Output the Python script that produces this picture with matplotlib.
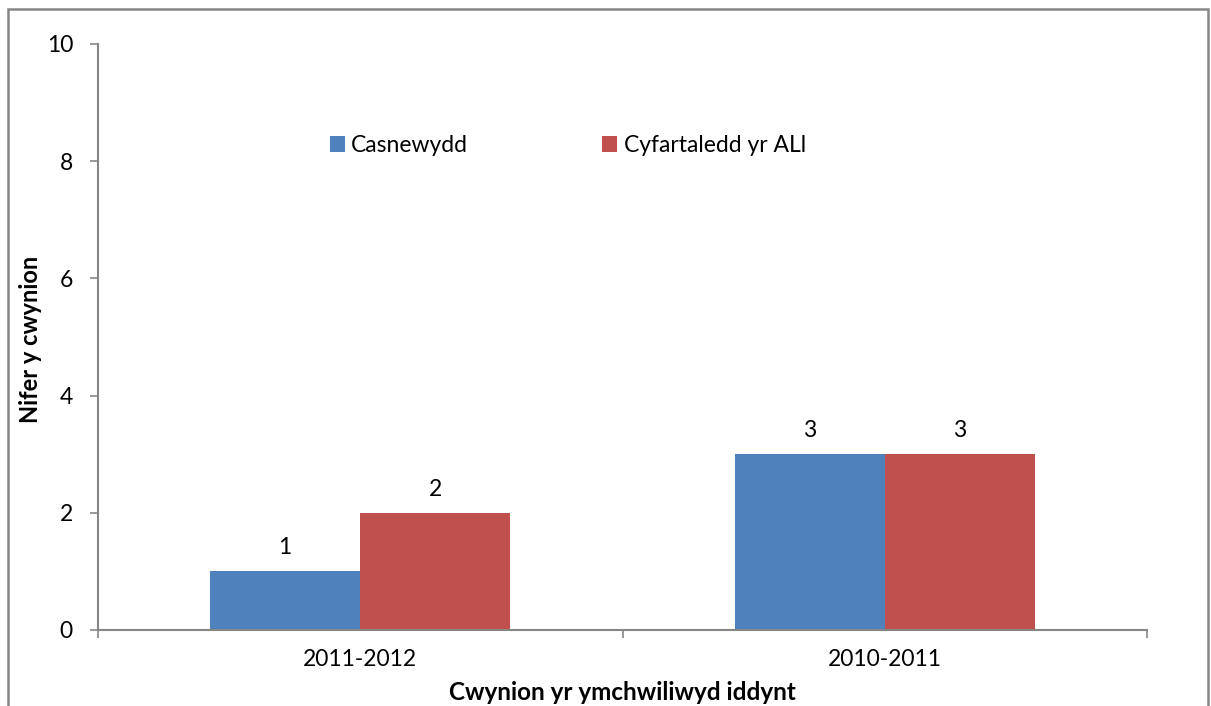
import matplotlib
matplotlib.use("Agg")
import matplotlib.pyplot as plt
from matplotlib.patches import Patch, Rectangle

categories = ["2011-2012", "2010-2011"]
series_names = ["Casnewydd", "Cyfartaledd yr ALl"]
casnewydd = [1, 3]
cyfartaledd = [2, 3]
colors = ["#4F81BD", "#C0504D"]
y_ticks = [0, 2, 4, 6, 8, 10]

plt.rcParams['font.family'] = ['Lato', 'DejaVu Sans']

W, H = 1211, 706
fig = plt.figure(figsize=(W / 100, H / 100), dpi=100)

# outer frame
fig.patches.append(Rectangle((8 / W, -0.05), 1200 / W, 1.05 - 9 / H,
                             transform=fig.transFigure, fill=False,
                             edgecolor="#868686", linewidth=1.8))

ax = fig.add_axes([98 / W, (H - 630) / H, (1147 - 98) / W, (630 - 44) / H])

gray = "#868686"
fs = 16.5
bw = 150 / 524
x = list(range(len(categories)))
b1 = ax.bar([i - bw / 2 for i in x], casnewydd, width=bw, color=colors[0], label=series_names[0])
b2 = ax.bar([i + bw / 2 for i in x], cyfartaledd, width=bw, color=colors[1], label=series_names[1])

for bars, vals in ((b1, casnewydd), (b2, cyfartaledd)):
    for r, v in zip(bars, vals):
        ax.annotate(str(v), (r.get_x() + r.get_width() / 2, v), xytext=(0, 17),
                    textcoords="offset points", ha="center", va="center", fontsize=fs)

ax.set_xlim(-0.5, len(categories) - 0.5)
ax.set_ylim(0, 10)
ax.set_yticks(y_ticks)
ax.set_xticks(x)
ax.set_xticklabels(categories)
ax.set_xticks([i - 0.5 for i in range(len(categories) + 1)], minor=True)
ax.tick_params(axis="x", which="major", length=0, pad=14, labelsize=fs)
ax.tick_params(axis="x", which="minor", length=5.5, width=1.2, color=gray, direction="out")
ax.tick_params(axis="y", length=6, width=1.2, color=gray, direction="out", pad=12, labelsize=fs)

for s in ("top", "right"):
    ax.spines[s].set_visible(False)
for s in ("left", "bottom"):
    ax.spines[s].set_color(gray)
    ax.spines[s].set_linewidth(1.5)

fig.text(31 / W, 1 - 339 / H, "Nifer y cwynion", rotation=90, ha="center", va="center",
         fontsize=17, fontweight="bold")
fig.text(622 / W, 1 - 692 / H, "Cwynion yr ymchwiliwyd iddynt", ha="center", va="center",
         fontsize=17.5, fontweight="bold")

handles = [Patch(facecolor=c, edgecolor="none") for c in colors]
fig.legend(handles, series_names, loc="upper left", bbox_to_anchor=(330 / W, 1 - 135 / H),
           ncol=2, frameon=False, fontsize=fs, handlelength=0.65, handleheight=0.65,
           handletextpad=0.28, columnspacing=5.85, borderaxespad=0, borderpad=0)

fig.savefig("out.png", dpi=100)
